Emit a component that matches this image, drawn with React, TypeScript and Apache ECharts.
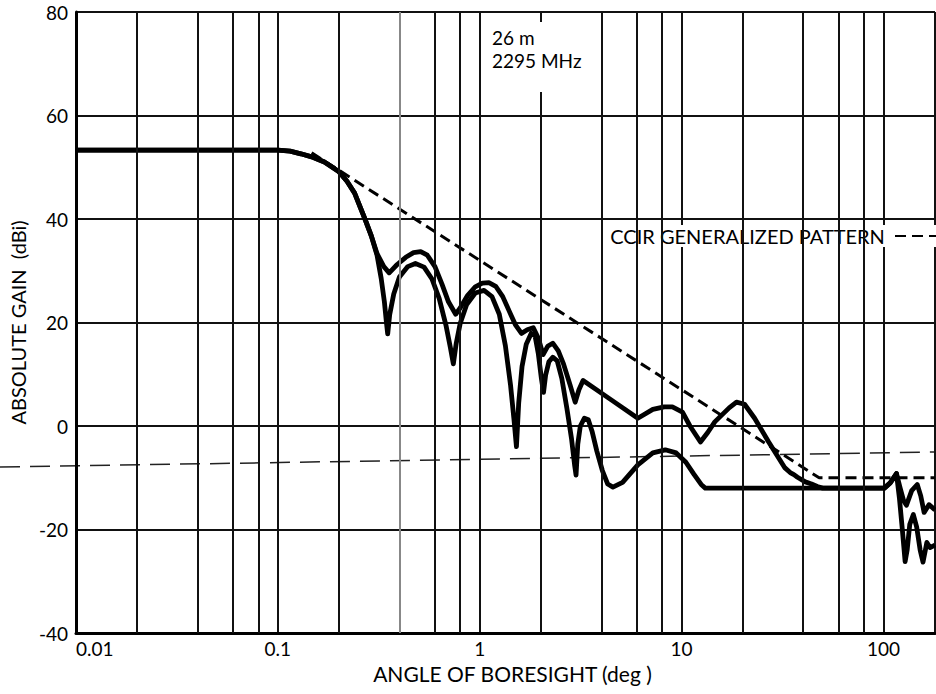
import { useEffect, useRef } from "react";
import * as echarts from "echarts";

// Axis ranges and grid spacing
const angleRange = [0.01, 180];
const gainRange = [-40, 80];
const gainStep = 20;
// Intermediate vertical rulings inside each decade (2, 4, 6, 8 x 10^k)
const minorGridAngles = [
  0.02, 0.04, 0.06, 0.08,
  0.2, 0.4, 0.6, 0.8,
  2, 4, 6, 8,
  20, 40, 60, 80,
];
const lightRuling = [0.4];

const FONT = "Lato, 'DejaVu Sans', sans-serif";
const CCIR_NAME = "CCIR GENERALIZED PATTERN";

// Measured pattern, envelope (upper trace): [angle deg, gain dBi]
const upperPattern: [number, number][] = [
  [0.01, 53.3], [0.1, 53.3], [0.115, 53.1], [0.13, 52.6], [0.15, 51.9],
  [0.17, 51.0], [0.2, 49.2], [0.22, 47.3], [0.24, 45.0], [0.27, 40.0],
  [0.29, 36.8], [0.31, 33.3], [0.335, 30.8], [0.356, 29.6], [0.39, 31.2],
  [0.43, 32.6], [0.47, 33.5], [0.51, 33.7], [0.55, 33.0], [0.6, 30.8],
  [0.65, 27.4], [0.7, 24.0], [0.76, 21.6], [0.8, 22.8], [0.87, 25.2],
  [0.95, 26.9], [1.03, 27.6], [1.11, 27.7], [1.2, 27.0], [1.3, 25.0],
  [1.4, 22.2], [1.5, 19.6], [1.61, 17.9], [1.72, 18.6], [1.84, 19.0],
  [1.95, 17.0], [2.06, 13.8], [2.17, 15.4], [2.3, 16.0], [2.45, 14.5],
  [2.6, 12.0], [2.8, 8.0], [2.97, 4.6], [3.1, 7.0], [3.25, 8.8],
  [4.5, 5.0], [6.07, 1.5], [7.2, 3.2], [8.2, 3.7], [9.0, 3.7],
  [10.1, 2.7], [11.0, 0.0], [12.4, -3.1], [13.5, -1.2], [14.6, 0.8],
  [17.2, 3.5], [18.7, 4.6], [20.5, 4.2], [23.0, 1.5], [27.0, -3.1],
  [32.5, -8.1], [34.5, -9.0], [36.0, -9.4], [37.5, -9.9], [41.0, -10.8],
  [44.0, -11.2], [47.0, -11.7], [50.0, -12.0], [101, -12.0], [108, -11.0],
  [116, -9.2], [121, -12.0], [126, -14.5], [130, -15.3], [138, -12.5],
  [147, -11.3], [153, -13.5], [159, -16.7], [168, -15.2], [180, -16.2],
];

// Measured pattern, lower trace: [angle deg, gain dBi]
const lowerPattern: [number, number][] = [
  [0.01, 53.3], [0.1, 53.3], [0.115, 53.1], [0.13, 52.6], [0.15, 51.9],
  [0.17, 51.0], [0.2, 49.2], [0.22, 47.3], [0.24, 45.0], [0.27, 40.0],
  [0.29, 36.8], [0.31, 33.0], [0.325, 28.5], [0.337, 24.0], [0.345, 20.0],
  [0.35, 17.8], [0.358, 21.5], [0.375, 25.5], [0.4, 28.8], [0.44, 30.8],
  [0.48, 31.4], [0.53, 30.7], [0.58, 28.4], [0.63, 24.6], [0.68, 19.5],
  [0.715, 15.2], [0.74, 12.0], [0.765, 16.0], [0.8, 19.8], [0.86, 23.4],
  [0.95, 25.7], [1.05, 26.2], [1.15, 25.0], [1.25, 21.6], [1.34, 15.5],
  [1.42, 8.0], [1.48, 1.0], [1.52, -4.0], [1.56, 4.5], [1.62, 11.5],
  [1.7, 15.8], [1.8, 17.9], [1.88, 17.4], [1.95, 14.0], [2.02, 9.2],
  [2.07, 6.5], [2.12, 9.8], [2.2, 12.4], [2.3, 13.3], [2.42, 12.6],
  [2.55, 9.2], [2.7, 3.5], [2.85, -2.5], [2.95, -7.5], [3.0, -9.5],
  [3.06, -3.5], [3.15, 0.0], [3.3, 1.5], [3.45, 1.2], [3.6, -1.0],
  [3.8, -4.8], [4.05, -8.6], [4.3, -11.2], [4.57, -11.8], [5.1, -10.9],
  [6.07, -7.5], [7.2, -5.2], [8.3, -4.6], [9.4, -5.2], [10.5, -7.0],
  [11.5, -9.3], [12.5, -11.3], [13.1, -12.0], [101, -12.0], [108, -11.0],
  [116, -9.2], [120, -14.0], [124, -20.0], [128, -26.2], [131, -24.0],
  [135, -19.0], [140.6, -17.1], [146, -19.5], [152, -24.0], [157, -26.3],
  [164, -22.5], [170, -23.5], [180, -23.0],
];

// CCIR generalized pattern break points: [angle deg, gain dBi]
const ccirPattern: [number, number][] = [
  [0.147, 52.8], [48, -10], [180, -10],
];

const baseText = { color: "#000", fontFamily: FONT };

export default function App() {
  const ref = useRef<HTMLDivElement>(null);

  useEffect(() => {
    const chart = echarts.init(ref.current!, null, { renderer: "svg" });
    chart.setOption({
      animation: false,
      backgroundColor: "#fff",
      grid: { left: 70, right: 1, top: 12, bottom: 61 },
      legend: {
        data: [{ name: CCIR_NAME }],
        right: -6,
        top: 225,
        align: "right",
        itemWidth: 46,
        itemHeight: 12,
        selectedMode: false,
        backgroundColor: "#fff",
        padding: [1, 0, 1, 4],
        formatter: (name: string) => name + " ",
        itemStyle: { opacity: 0 },
        textStyle: { ...baseText, fontSize: 20 },
      },
      xAxis: {
        type: "log",
        logBase: 10,
        min: angleRange[0],
        max: angleRange[1],
        axisLine: { show: true, onZero: false, lineStyle: { color: "#000", width: 3 } },
        axisTick: { show: false },
        splitLine: { show: true, lineStyle: { color: "#111", width: 2 } },
        axisLabel: {
          ...baseText,
          fontSize: 19,
          margin: 6,
          showMaxLabel: false,
          alignMinLabel: "left",
          formatter: (v: number) => String(+Number(v).toPrecision(3)),
        },
        name: "ANGLE OF BORESIGHT (deg )",
        nameLocation: "middle",
        nameGap: 29,
        nameTextStyle: { ...baseText, fontSize: 21, padding: [0, 0, 0, 14] },
      },
      yAxis: {
        type: "value",
        min: gainRange[0],
        max: gainRange[1],
        interval: gainStep,
        axisLine: { show: true, lineStyle: { color: "#000", width: 3 } },
        axisTick: { show: false },
        splitLine: { show: true, lineStyle: { color: "#111", width: 2 } },
        axisLabel: { ...baseText, fontSize: 19, margin: 8 },
        name: "ABSOLUTE GAIN  (dBi)",
        nameLocation: "middle",
        nameGap: 38,
        nameTextStyle: { ...baseText, fontSize: 20 },
      },
      graphic: [
        {
          type: "line",
          silent: true,
          z: 0,
          shape: { x1: 0, y1: 467, x2: 936, y2: 452 },
          style: { stroke: "#222", lineWidth: 1.5, lineDash: [20, 10] },
        },
        {
          type: "text",
          z: 100,
          left: 482,
          top: 22,
          style: {
            text: "26 m\n2295 MHz",
            font: `19px ${FONT}`,
            fill: "#000",
            lineHeight: 23,
            backgroundColor: "#fff",
            padding: [4, 10, 20, 10],
          },
        },
      ],
      series: [
        {
          name: "rulings",
          type: "line",
          data: [],
          silent: true,
          z: 1,
          markLine: {
            symbol: "none",
            silent: true,
            label: { show: false },
            lineStyle: { color: "#111", width: 2, type: "solid" },
            data: minorGridAngles.map((a) => ({
              xAxis: a,
              lineStyle: lightRuling.includes(a) ? { color: "#888" } : undefined,
            })),
          },
        },
        {
          name: CCIR_NAME,
          type: "line",
          data: ccirPattern,
          symbol: "none",
          z: 3,
          itemStyle: { color: "#000" },
          lineStyle: { color: "#000", width: 3, type: [11, 6] },
        },
        {
          name: "upper",
          type: "line",
          data: upperPattern,
          symbol: "none",
          z: 4,
          itemStyle: { color: "#000" },
          lineStyle: { color: "#000", width: 4.8, join: "round" },
        },
        {
          name: "lower",
          type: "line",
          data: lowerPattern,
          symbol: "none",
          z: 4,
          itemStyle: { color: "#000" },
          lineStyle: { color: "#000", width: 4.8, join: "round" },
        },
      ],
    });
    return () => chart.dispose();
  }, []);

  return (
    <div
      ref={ref}
      style={{ position: "fixed", left: 0, top: 0, width: 936, height: 694, background: "#fff" }}
    />
  );
}
